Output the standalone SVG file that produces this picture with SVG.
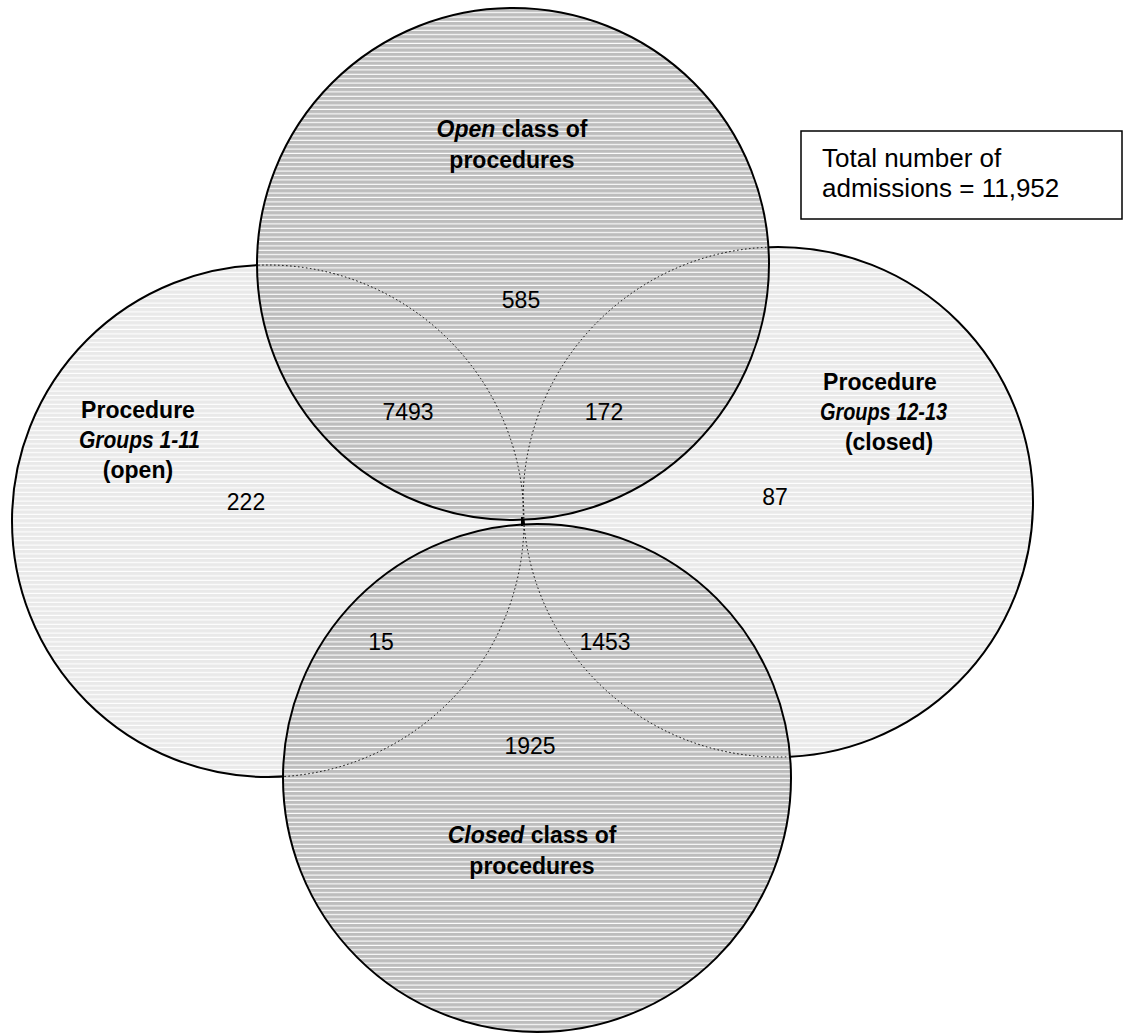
<svg xmlns="http://www.w3.org/2000/svg" width="1125" height="1035" viewBox="0 0 1125 1035">
  <style>
    .lbl { font-family: "Liberation Sans", Arial, sans-serif; font-size: 23px; fill: #000; }
    .b { font-weight: bold; }
    .grp { font-style: italic; }
    .box { font-family: "Liberation Sans", Arial, sans-serif; font-size: 26px; fill: #000; }
    .edge { stroke: #000; stroke-width: 2; }
    .dot { fill: none; stroke: #000; stroke-width: 1; stroke-dasharray: 1.5 2.5; }
  </style>
  <defs>
    <pattern id="hatchLight" patternUnits="userSpaceOnUse" width="8" height="4.4">
      <rect width="8" height="4.4" fill="#e9e9e9"/>
      <rect y="3.3" width="8" height="1.1" fill="#ffffff"/>
    </pattern>
    <pattern id="hatchDark" patternUnits="userSpaceOnUse" width="8" height="4.4">
      <rect width="8" height="4.4" fill="#bdbdbd"/>
      <rect y="3.3" width="8" height="1.1" fill="#ffffff"/>
    </pattern>
    <clipPath id="innerTB">
      <circle cx="513" cy="264" r="255"/>
      <circle cx="537" cy="778" r="253"/>
    </clipPath>
  </defs>
  <rect width="1125" height="1035" fill="#ffffff"/>

  <g id="node-groups-1-11">
    <circle class="edge" cx="268" cy="521" r="256" fill="url(#hatchLight)"/>
  </g>
  <g id="node-groups-12-13">
    <circle class="edge" cx="778" cy="502" r="255" fill="url(#hatchLight)"/>
  </g>
  <g id="node-open-class">
    <circle class="edge" cx="513" cy="264" r="256" fill="url(#hatchDark)"/>
  </g>
  <g id="node-closed-class">
    <circle class="edge" cx="537" cy="778" r="254" fill="url(#hatchDark)"/>
  </g>

  <g id="connectors">
    <g clip-path="url(#innerTB)">
      <circle class="dot" cx="268" cy="521" r="256"/>
      <circle class="dot" cx="778" cy="502" r="255"/>
    </g>
    <line x1="522" y1="517" x2="522" y2="526" stroke="#000" stroke-width="2"/>
  </g>

  <g id="labels">
    <text class="lbl b" x="512" y="137" text-anchor="middle"><tspan font-style="italic">Open</tspan> class of</text>
    <text class="lbl b" x="512" y="168" text-anchor="middle">procedures</text>
    <text class="lbl" x="521" y="308" text-anchor="middle">585</text>
    <text class="lbl" x="408" y="420" text-anchor="middle">7493</text>
    <text class="lbl" x="604" y="420" text-anchor="middle">172</text>

    <text class="lbl b" x="138" y="418" text-anchor="middle">Procedure</text>
    <text class="lbl b grp" x="79" y="448" textLength="121" lengthAdjust="spacingAndGlyphs">Groups 1-11</text>
    <text class="lbl b" x="138" y="478" text-anchor="middle">(open)</text>
    <text class="lbl" x="246" y="510" text-anchor="middle">222</text>

    <text class="lbl b" x="880" y="390" text-anchor="middle">Procedure</text>
    <text class="lbl b grp" x="820" y="420" textLength="127" lengthAdjust="spacingAndGlyphs">Groups 12-13</text>
    <text class="lbl b" x="889" y="450" text-anchor="middle">(closed)</text>
    <text class="lbl" x="775" y="505" text-anchor="middle">87</text>

    <text class="lbl" x="381" y="650" text-anchor="middle">15</text>
    <text class="lbl" x="605" y="650" text-anchor="middle">1453</text>
    <text class="lbl" x="530" y="754" text-anchor="middle">1925</text>

    <text class="lbl b" x="532" y="843" text-anchor="middle"><tspan font-style="italic">Closed</tspan> class of</text>
    <text class="lbl b" x="532" y="874" text-anchor="middle">procedures</text>
  </g>

  <g id="node-total">
    <rect x="801" y="131" width="321" height="88" fill="#ffffff" stroke="#000" stroke-width="1.5"/>
    <text class="box" x="822" y="167">Total number of</text>
    <text class="box" x="822" y="197">admissions = 11,952</text>
  </g>
</svg>
